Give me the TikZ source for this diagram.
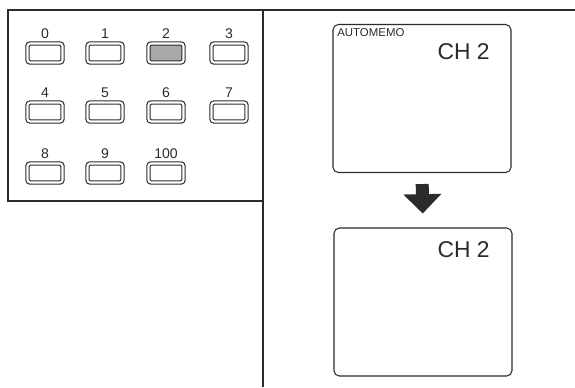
\documentclass[tikz,border=0pt]{standalone}
\usepackage{fontspec}
\setmainfont{Liberation Sans}
\usetikzlibrary{arrows.meta, positioning}
\definecolor{ink}{HTML}{2B2B2B}
\definecolor{keyfill}{HTML}{A8A8A8}

\begin{document}
\begin{tikzpicture}[x=0.02cm, y=-0.02cm,
      key/.style={draw=ink, double=white, line width=0.65pt, double distance=1.2pt,
                  rounded corners=1.5pt, minimum width=0.7cm, minimum height=0.38cm,
                  inner sep=0pt, label distance=0pt},
      num/.style={font=\fontsize{8}{9}\selectfont, text=ink, inner sep=0.5pt, yshift=2pt},
      scr/.style={draw=ink, line width=0.6pt, rounded corners=3pt,
                  minimum width=3.56cm, minimum height=2.96cm, inner sep=0pt},
      ch/.style={font=\fontsize{13}{15}\selectfont, text=ink, inner sep=0pt, anchor=east},
      big/.style={ink, line width=7.4pt, -{Triangle[width=21pt, length=11pt]}}
    ]
    \useasboundingbox (0,0) rectangle (575,387);

    % page frame
    \draw[ink, line width=0.6pt] (575,10) -- (8,10) -- (8,201) -- (263,201);
    \draw[ink, line width=0.6pt] (263,10) -- (263,387);

    % number keys
    \node[key, label={[num]above:0}] (k0) at (45,53)  {};
    \node[key, label={[num]above:1}] (k1) at (105,53) {};
    \node[key, fill=keyfill, label={[num]above:2}] (k2) at (166,53) {};
    \node[key, label={[num]above:3}] (k3) at (229,53) {};
    \node[key, label={[num]above:4}] (k4) at (45,112)  {};
    \node[key, label={[num]above:5}] (k5) at (105,112) {};
    \node[key, label={[num]above:6}] (k6) at (166,112) {};
    \node[key, label={[num]above:7}] (k7) at (229,112) {};
    \node[key, label={[num]above:8}] (k8) at (45,173)  {};
    \node[key, label={[num]above:9}] (k9) at (105,173) {};
    \node[key, label={[num]above:100}] (k100) at (166,173) {};

    % screens
    \node[scr] (scr1) at (422,98.5) {};
    \node[font=\fontsize{6.5}{7}\selectfont, text=ink, inner sep=0pt, anchor=north west]
         (memo) at (337,28) {AUTOMEMO};
    \node[ch] (ch1) at (490,52) {CH 2};

    \node[scr] (scr2) at (423,302) {};
    \node[ch] (ch2) at (490,250) {CH 2};

    \draw[big, shorten <=11*0.02cm, shorten >=14*0.02cm] (scr1.south) -- (scr2.north);
  \end{tikzpicture}
\end{document}
